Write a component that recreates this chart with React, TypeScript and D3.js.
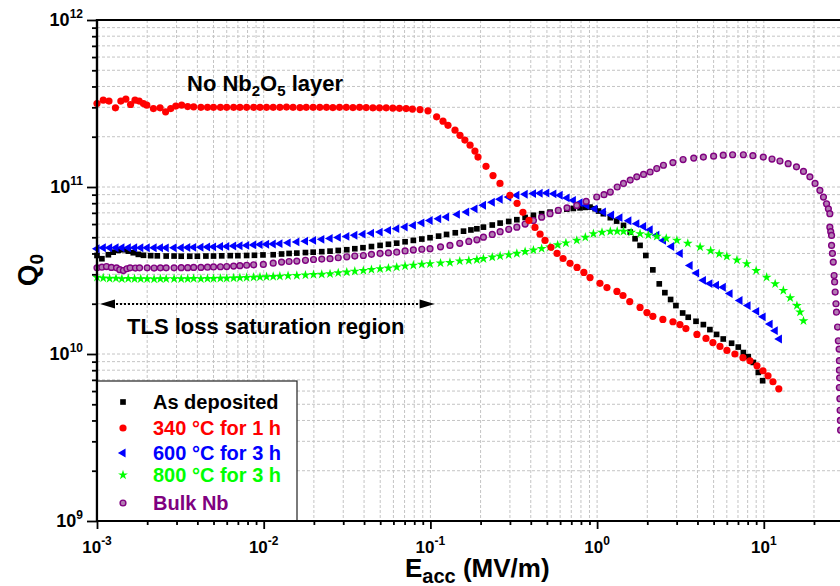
import * as d3 from 'd3';
import {useEffect, useRef} from 'react';

type Pt = [number, number];

// [Eacc (MV/m), Q0]
const asDeposited: Pt[] = [
	[0.001, 3.89e10], [0.00107, 3.72e10], [0.00117, 3.93e10], [0.00125, 4.07e10], [0.00134, 4.17e10],
	[0.00144, 4.21e10], [0.00154, 4.13e10], [0.00165, 4.04e10], [0.00177, 3.95e10], [0.0019, 3.9e10],
	[0.0021, 3.88e10], [0.0023, 3.87e10], [0.0026, 3.86e10], [0.0029, 3.86e10], [0.0032, 3.85e10],
	[0.0036, 3.85e10], [0.004, 3.85e10], [0.0045, 3.86e10], [0.005, 3.86e10], [0.0056, 3.87e10],
	[0.0063, 3.88e10], [0.007, 3.88e10], [0.0079, 3.89e10], [0.0088, 3.9e10], [0.0099, 3.92e10],
	[0.0114, 3.93e10], [0.0128, 3.97e10], [0.0142, 4.0e10], [0.0158, 4.02e10], [0.0178, 4.05e10],
	[0.0198, 4.07e10], [0.0223, 4.1e10], [0.025, 4.13e10], [0.028, 4.17e10], [0.0315, 4.21e10],
	[0.0352, 4.27e10], [0.0394, 4.33e10], [0.0443, 4.4e10], [0.0499, 4.47e10], [0.056, 4.54e10],
	[0.0628, 4.61e10], [0.0705, 4.7e10], [0.079, 4.79e10], [0.0888, 4.88e10], [0.0995, 4.97e10],
	[0.112, 5.08e10], [0.125, 5.2e10], [0.141, 5.32e10], [0.158, 5.44e10], [0.175, 5.53e10],
	[0.19, 5.62e10], [0.208, 5.75e10], [0.235, 5.92e10], [0.262, 6.08e10], [0.295, 6.22e10],
	[0.33, 6.37e10], [0.37, 6.57e10], [0.415, 6.77e10], [0.465, 6.92e10], [0.522, 7.07e10],
	[0.585, 7.22e10], [0.658, 7.37e10], [0.72, 7.44e10], [0.79, 7.5e10], [0.85, 7.55e10],
	[0.907, 7.58e10], [0.973, 7.41e10], [1.02, 7.18e10], [1.09, 6.92e10], [1.2, 6.55e10],
	[1.31, 6.25e10], [1.44, 5.89e10], [1.58, 5.37e10], [1.69, 4.9e10], [1.81, 4.47e10],
	[1.96, 3.89e10], [2.16, 3.19e10], [2.36, 2.63e10], [2.55, 2.33e10], [2.76, 2.12e10],
	[2.97, 1.95e10], [3.26, 1.76e10], [3.52, 1.66e10], [3.92, 1.57e10], [4.34, 1.5e10],
	[4.75, 1.4e10], [5.21, 1.31e10], [5.71, 1.23e10], [6.41, 1.16e10], [7.03, 1.1e10],
	[7.54, 1.02e10], [8.07, 9.64e9], [8.65, 8.9e9], [9.27, 7.76e9], [9.84, 6.92e9],
];

const c340: Pt[] = [
	[0.001, 3.16e11], [0.00109, 3.31e11], [0.00118, 3.27e11], [0.00129, 2.98e11], [0.00139, 3.27e11],
	[0.00149, 3.36e11], [0.00159, 3.12e11], [0.00169, 3.31e11], [0.00179, 3.27e11], [0.0019, 3.16e11],
	[0.00199, 3.09e11], [0.00218, 2.95e11], [0.00239, 2.98e11], [0.00258, 2.82e11], [0.00277, 2.95e11],
	[0.00297, 3.05e11], [0.00322, 3.09e11], [0.0035, 3.03e11], [0.0038, 3.02e11], [0.0042, 3.0e11],
	[0.0046, 3.0e11], [0.005, 3.0e11], [0.0055, 3.0e11], [0.006, 3.0e11], [0.0066, 3.0e11],
	[0.0072, 3.0e11], [0.0079, 3.0e11], [0.0087, 3.0e11], [0.0095, 3.0e11], [0.0104, 3.0e11],
	[0.0114, 3.0e11], [0.0125, 3.0e11], [0.0137, 3.01e11], [0.015, 3.0e11], [0.0165, 2.99e11],
	[0.018, 3.0e11], [0.0198, 3.0e11], [0.0217, 3.0e11], [0.0238, 3.0e11], [0.026, 2.99e11],
	[0.0285, 3.0e11], [0.0313, 3.0e11], [0.0343, 2.99e11], [0.0376, 3.0e11], [0.0412, 2.99e11],
	[0.0452, 2.98e11], [0.0495, 2.98e11], [0.0543, 2.98e11], [0.0595, 2.97e11], [0.0652, 2.96e11],
	[0.0715, 2.95e11], [0.078, 2.93e11], [0.0866, 2.91e11], [0.0967, 2.86e11], [0.109, 2.63e11],
	[0.119, 2.48e11], [0.1275, 2.34e11], [0.1405, 2.19e11], [0.1505, 2.04e11], [0.161, 1.91e11],
	[0.173, 1.78e11], [0.185, 1.64e11], [0.193, 1.51e11], [0.2156, 1.33e11], [0.2375, 1.17e11],
	[0.2615, 1.05e11], [0.3, 8.92e10], [0.331, 7.98e10], [0.359, 7.05e10], [0.39, 6.31e10],
	[0.424, 5.73e10], [0.455, 5.22e10], [0.487, 4.79e10], [0.529, 4.35e10], [0.575, 4.0e10],
	[0.625, 3.73e10], [0.688, 3.49e10], [0.758, 3.3e10], [0.833, 3.08e10], [0.907, 2.87e10],
	[1.04, 2.65e10], [1.146, 2.5e10], [1.315, 2.37e10], [1.43, 2.24e10], [1.57, 2.06e10],
	[1.81, 1.9e10], [1.99, 1.77e10], [2.16, 1.68e10], [2.48, 1.61e10], [2.85, 1.56e10],
	[3.14, 1.5e10], [3.41, 1.42e10], [3.97, 1.31e10], [4.5, 1.24e10], [4.95, 1.17e10],
	[5.46, 1.11e10], [6.01, 1.05e10], [6.71, 1.0e10], [7.5, 9.5e9], [8.26, 9.1e9],
	[9.1, 8.5e9], [9.89, 7.94e9], [10.6, 7.41e9], [11.35, 6.82e9], [12.3, 6.19e9],
];

const c600: Pt[] = [
	[0.001, 4.27e10], [0.00109, 4.33e10], [0.00119, 4.33e10], [0.0013, 4.33e10], [0.00141, 4.33e10],
	[0.00154, 4.33e10], [0.00168, 4.33e10], [0.00183, 4.33e10], [0.002, 4.33e10], [0.0022, 4.33e10],
	[0.0024, 4.33e10], [0.0026, 4.32e10], [0.0029, 4.33e10], [0.0032, 4.33e10], [0.0035, 4.34e10],
	[0.0038, 4.35e10], [0.0042, 4.36e10], [0.0046, 4.37e10], [0.005, 4.38e10], [0.0055, 4.4e10],
	[0.006, 4.41e10], [0.0066, 4.43e10], [0.0072, 4.45e10], [0.0079, 4.47e10], [0.0087, 4.5e10],
	[0.0095, 4.52e10], [0.0104, 4.54e10], [0.0114, 4.56e10], [0.0125, 4.58e10], [0.014, 4.63e10],
	[0.0158, 4.69e10], [0.0178, 4.74e10], [0.0199, 4.79e10], [0.0223, 4.86e10], [0.025, 4.92e10],
	[0.028, 4.99e10], [0.0315, 5.06e10], [0.0352, 5.14e10], [0.0394, 5.22e10], [0.0443, 5.29e10],
	[0.0499, 5.37e10], [0.056, 5.5e10], [0.0628, 5.63e10], [0.0705, 5.76e10], [0.079, 5.89e10],
	[0.0888, 6.1e10], [0.0995, 6.3e10], [0.112, 6.45e10], [0.125, 6.61e10], [0.145, 6.85e10],
	[0.165, 7.08e10], [0.185, 7.4e10], [0.208, 7.77e10], [0.235, 8.1e10], [0.262, 8.44e10],
	[0.295, 8.7e10], [0.33, 8.92e10], [0.37, 9.05e10], [0.415, 9.13e10], [0.455, 9.18e10],
	[0.499, 9.2e10], [0.55, 9.1e10], [0.6, 8.92e10], [0.66, 8.6e10], [0.72, 8.32e10],
	[0.79, 8.05e10], [0.867, 7.76e10], [0.97, 7.4e10], [1.09, 7.08e10], [1.22, 6.8e10],
	[1.37, 6.55e10], [1.55, 6.28e10], [1.73, 6.03e10], [1.9, 5.8e10], [2.08, 5.55e10],
	[2.28, 5.15e10], [2.5, 4.79e10], [2.8, 4.4e10], [3.15, 4.0e10], [3.61, 3.39e10],
	[3.95, 3.05e10], [4.34, 2.76e10], [4.75, 2.64e10], [5.2, 2.58e10], [5.71, 2.51e10],
	[6.27, 2.3e10], [7.19, 2.09e10], [8.04, 1.95e10], [9.06, 1.8e10], [9.9, 1.67e10],
	[10.9, 1.51e10], [11.7, 1.38e10], [12.4, 1.23e10],
];

const c800: Pt[] = [
	[0.001, 2.88e10], [0.00109, 2.85e10], [0.00119, 2.83e10], [0.0013, 2.84e10], [0.00141, 2.82e10],
	[0.00154, 2.83e10], [0.00168, 2.82e10], [0.00183, 2.82e10], [0.002, 2.82e10], [0.0022, 2.81e10],
	[0.0024, 2.82e10], [0.0026, 2.82e10], [0.0029, 2.82e10], [0.0032, 2.82e10], [0.0035, 2.82e10],
	[0.0038, 2.83e10], [0.0042, 2.82e10], [0.0046, 2.83e10], [0.005, 2.83e10], [0.0055, 2.84e10],
	[0.006, 2.84e10], [0.0066, 2.85e10], [0.0072, 2.86e10], [0.0079, 2.87e10], [0.0087, 2.88e10],
	[0.0095, 2.89e10], [0.0104, 2.9e10], [0.0114, 2.91e10], [0.0125, 2.92e10], [0.014, 2.94e10],
	[0.0158, 2.95e10], [0.0178, 2.97e10], [0.0199, 2.99e10], [0.0223, 3.0e10], [0.025, 3.02e10],
	[0.028, 3.06e10], [0.0315, 3.09e10], [0.0352, 3.13e10], [0.0396, 3.16e10], [0.0443, 3.2e10],
	[0.0499, 3.24e10], [0.056, 3.27e10], [0.0628, 3.31e10], [0.0705, 3.36e10], [0.079, 3.4e10],
	[0.0888, 3.44e10], [0.0995, 3.47e10], [0.115, 3.5e10], [0.131, 3.53e10], [0.15, 3.6e10],
	[0.17, 3.63e10], [0.19, 3.67e10], [0.208, 3.72e10], [0.235, 3.8e10], [0.262, 3.86e10],
	[0.295, 3.93e10], [0.33, 4.0e10], [0.37, 4.1e10], [0.415, 4.19e10], [0.465, 4.28e10],
	[0.522, 4.37e10], [0.58, 4.5e10], [0.65, 4.62e10], [0.755, 4.79e10], [0.85, 5.0e10],
	[0.95, 5.25e10], [1.07, 5.35e10], [1.2, 5.42e10], [1.32, 5.43e10], [1.44, 5.42e10],
	[1.6, 5.35e10], [1.81, 5.25e10], [2.03, 5.15e10], [2.28, 5.06e10], [2.6, 4.92e10],
	[3.01, 4.79e10], [3.5, 4.6e10], [4.15, 4.37e10], [4.8, 4.15e10], [5.4, 3.98e10],
	[6.0, 3.84e10], [6.9, 3.65e10], [7.9, 3.47e10], [9.0, 3.16e10], [10.4, 2.88e10],
	[11.7, 2.63e10], [13.1, 2.4e10], [14.4, 2.17e10], [15.8, 1.95e10], [16.5, 1.78e10],
	[17.3, 1.58e10],
];

const bulkNb: Pt[] = [
	[0.001, 3.28e10], [0.00107, 3.31e10], [0.00114, 3.34e10], [0.00122, 3.3e10], [0.00131, 3.28e10],
	[0.00137, 3.2e10], [0.00144, 3.16e10], [0.00151, 3.24e10], [0.00158, 3.28e10], [0.0017, 3.27e10],
	[0.0018, 3.28e10], [0.002, 3.28e10], [0.0022, 3.27e10], [0.0024, 3.28e10], [0.0026, 3.28e10],
	[0.0029, 3.28e10], [0.0032, 3.29e10], [0.0035, 3.29e10], [0.0038, 3.3e10], [0.0042, 3.3e10],
	[0.0046, 3.31e10], [0.005, 3.32e10], [0.0055, 3.33e10], [0.006, 3.34e10], [0.0066, 3.36e10],
	[0.0072, 3.38e10], [0.0079, 3.4e10], [0.0087, 3.42e10], [0.00995, 3.44e10], [0.0114, 3.5e10],
	[0.0128, 3.55e10], [0.0142, 3.58e10], [0.0158, 3.6e10], [0.0178, 3.64e10], [0.0199, 3.68e10],
	[0.0223, 3.7e10], [0.025, 3.72e10], [0.028, 3.77e10], [0.0315, 3.82e10], [0.0352, 3.86e10],
	[0.0396, 3.89e10], [0.0443, 3.95e10], [0.0499, 4.0e10], [0.056, 4.03e10], [0.0628, 4.07e10],
	[0.0705, 4.14e10], [0.079, 4.2e10], [0.0888, 4.24e10], [0.0995, 4.27e10], [0.115, 4.38e10],
	[0.131, 4.47e10], [0.15, 4.6e10], [0.17, 4.72e10], [0.19, 4.83e10], [0.208, 5.01e10],
	[0.235, 5.2e10], [0.262, 5.4e10], [0.295, 5.58e10], [0.33, 5.75e10], [0.37, 6.0e10],
	[0.415, 6.3e10], [0.465, 6.6e10], [0.522, 6.92e10], [0.585, 7.25e10], [0.66, 7.5e10],
	[0.755, 7.76e10], [0.86, 8.2e10], [0.995, 8.71e10], [1.1, 9.0e10], [1.2, 9.33e10],
	[1.32, 1.0e11], [1.44, 1.05e11], [1.58, 1.1e11], [1.73, 1.15e11], [1.9, 1.19e11],
	[2.08, 1.23e11], [2.28, 1.29e11], [2.5, 1.35e11], [2.85, 1.4e11], [3.28, 1.46e11],
	[3.8, 1.49e11], [4.34, 1.51e11], [5.0, 1.53e11], [5.71, 1.55e11], [6.5, 1.56e11],
	[7.54, 1.56e11], [8.6, 1.54e11], [9.93, 1.51e11], [11.2, 1.47e11], [12.5, 1.43e11],
	[14.0, 1.38e11], [15.7, 1.32e11], [17.3, 1.24e11], [18.9, 1.15e11], [20.3, 1.05e11],
	[21.7, 9.55e10], [22.8, 8.7e10], [23.8, 7.94e10], [24.4, 7.4e10], [24.9, 6.92e10],
	[24.9, 5.75e10], [25.2, 5.4e10], [25.5, 5.13e10], [25.5, 4.47e10], [25.8, 4.0e10],
	[26.1, 3.55e10], [26.4, 2.95e10], [26.6, 2.7e10], [26.8, 2.35e10], [27.1, 2.0e10],
	[27.3, 1.78e10], [27.7, 1.45e10], [28.0, 1.2e10], [28.3, 1.07e10], [28.4, 9.12e9],
	[28.4, 8.0e9], [28.5, 7.2e9], [28.4, 6.3e9], [28.6, 5.4e9], [28.7, 4.6e9],
	[28.8, 4.0e9], [28.9, 3.5e9],
];

const legendLabels = ['As deposited', '340 °C for 1 h', '600 °C for 3 h', '800 °C for 3 h', 'Bulk Nb'];
const xTickExps = [-3, -2, -1, 0, 1];
const yTickExps = [9, 10, 11, 12];

const FONT = "'Liberation Sans', Arial, Helvetica, sans-serif";
const W = 840;
const H = 586;

const series = [
	{label: legendLabels[0], data: asDeposited, color: '#000000', shape: 'square'},
	{label: legendLabels[2], data: c600, color: '#0000ff', shape: 'triangle'},
	{label: legendLabels[3], data: c800, color: '#00ff00', shape: 'star'},
	{label: legendLabels[4], data: bulkNb, color: '#800080', shape: 'ring'},
	{label: legendLabels[1], data: c340, color: '#ff0000', shape: 'circle'},
];

function addMarker(g: any, shape: string, color: string, cx: number, cy: number) {
	if (shape === 'circle') {
		g.append('circle').attr('cx', cx).attr('cy', cy).attr('r', 3.6).attr('fill', color);
	} else if (shape === 'ring') {
		g.append('circle')
			.attr('cx', cx)
			.attr('cy', cy)
			.attr('r', 2.9)
			.attr('fill', '#b27bb2')
			.attr('stroke', color)
			.attr('stroke-width', 1.4);
	} else {
		const type = shape === 'square' ? d3.symbolSquare : shape === 'triangle' ? d3.symbolTriangle : d3.symbolStar;
		const size = shape === 'square' ? 32 : shape === 'triangle' ? 34 : 30;
		const rot = shape === 'triangle' ? -90 : 0;
		g.append('path')
			.attr('d', d3.symbol(type, size)())
			.attr('transform', `translate(${cx},${cy}) rotate(${rot})`)
			.attr('fill', color);
	}
}

export default function App() {
	const svgRef = useRef<SVGSVGElement>(null);

	useEffect(() => {
		const svg = d3.select(svgRef.current);
		svg.selectAll('*').remove();

		const x = d3.scaleLog().domain([1e-3, 1e2]).range([97, 930.5]);
		const y = d3.scaleLog().domain([1e9, 1e12]).range([521, 20]);

		const isMajor = (v: number) => Math.abs(Math.log10(v) - Math.round(Math.log10(v))) < 1e-6;
		const xTicks = x.ticks();
		const yTicks = y.ticks();

		// grid
		const grid = svg.append('g').attr('stroke', '#c4c4c4').attr('stroke-width', 1).attr('stroke-dasharray', '3,2');
		grid.selectAll('.vg')
			.data(xTicks.filter((v) => x(v) > 98 && x(v) < W))
			.join('line')
			.attr('x1', (d) => x(d))
			.attr('x2', (d) => x(d))
			.attr('y1', 20)
			.attr('y2', 521);
		grid.selectAll('.hg')
			.data(yTicks.filter((v) => y(v) > 21 && y(v) < 520))
			.join('line')
			.attr('x1', 97)
			.attr('x2', W)
			.attr('y1', (d) => y(d))
			.attr('y2', (d) => y(d));

		// data
		const plot = svg.append('g');
		series.forEach((s) => {
			const g = plot.append('g');
			s.data.forEach(([e, q]) => addMarker(g, s.shape, s.color, x(e), y(q)));
		});

		// axes
		const gx = svg.append('g').attr('transform', 'translate(0,521)');
		gx.call(d3.axisBottom(x).tickValues(xTicks.filter((v) => !isMajor(v))).tickSize(4).tickSizeOuter(0).tickFormat(() => ''));
		gx.call((g) => g.select('.domain').remove());
		const gx2 = svg.append('g').attr('transform', 'translate(0,521)');
		gx2.call(d3.axisBottom(x).tickValues(xTicks.filter(isMajor)).tickSize(8).tickSizeOuter(0).tickFormat(() => ''));
		gx2.call((g) => g.select('.domain').remove());

		const gy = svg.append('g').attr('transform', 'translate(97,0)');
		gy.call(d3.axisLeft(y).tickValues(yTicks.filter((v) => !isMajor(v))).tickSize(5).tickSizeOuter(0).tickFormat(() => ''));
		gy.call((g) => g.select('.domain').remove());
		const gy2 = svg.append('g').attr('transform', 'translate(97,0)');
		gy2.call(d3.axisLeft(y).tickValues(yTicks.filter(isMajor)).tickSize(10).tickSizeOuter(0).tickFormat(() => ''));
		gy2.call((g) => g.select('.domain').remove());
		svg.selectAll('.tick line').attr('stroke', '#000').attr('stroke-width', 1.8);

		svg.append('line').attr('x1', 97).attr('x2', W).attr('y1', 521).attr('y2', 521).attr('stroke', '#000').attr('stroke-width', 2);
		svg.append('line').attr('x1', 97).attr('x2', W).attr('y1', 20).attr('y2', 20).attr('stroke', '#000').attr('stroke-width', 2);
		svg.append('line').attr('x1', 97).attr('x2', 97).attr('y1', 19).attr('y2', 522).attr('stroke', '#000').attr('stroke-width', 2.2);

		// tick labels
		xTickExps.forEach((e) => {
			const t = svg
				.append('text')
				.attr('x', x(10 ** e))
				.attr('y', 553)
				.attr('text-anchor', 'middle')
				.attr('font-family', FONT)
				.attr('font-weight', 'bold')
				.attr('font-size', 17);
			t.append('tspan').text('10');
			t.append('tspan').attr('dy', -8).attr('font-size', 12).text(String(e));
		});
		yTickExps.forEach((e) => {
			const t = svg
				.append('text')
				.attr('x', 83)
				.attr('y', y(10 ** e) + 6)
				.attr('text-anchor', 'end')
				.attr('font-family', FONT)
				.attr('font-weight', 'bold')
				.attr('font-size', 18);
			t.append('tspan').text('10');
			t.append('tspan').attr('dy', -8).attr('font-size', 12).text(String(e));
		});

		// axis titles
		const xl = svg.append('text').attr('x', 405).attr('y', 577).attr('font-family', FONT).attr('font-weight', 'bold').attr('font-size', 26);
		xl.append('tspan').text('E');
		xl.append('tspan').attr('dy', 6).attr('font-size', 20).text('acc');
		xl.append('tspan').attr('dy', -6).text(' (MV/m)');

		const yl = svg
			.append('text')
			.attr('transform', 'translate(37,270) rotate(-90)')
			.attr('text-anchor', 'middle')
			.attr('font-family', FONT)
			.attr('font-weight', 'bold')
			.attr('font-size', 28);
		yl.append('tspan').text('Q');
		yl.append('tspan').attr('dy', 6).attr('font-size', 19).text('0');

		// annotations
		const ann = svg.append('text').attr('x', 187).attr('y', 91).attr('font-family', FONT).attr('font-weight', 'bold').attr('font-size', 22);
		ann.append('tspan').text('No Nb');
		ann.append('tspan').attr('dy', 5).attr('font-size', 15).text('2');
		ann.append('tspan').attr('dy', -5).text('O');
		ann.append('tspan').attr('dy', 5).attr('font-size', 15).text('5');
		ann.append('tspan').attr('dy', -5).text(' layer');

		const ax0 = x(1e-3) + 3;
		const ax1 = x(0.106);
		const ay = 304;
		svg.append('line')
			.attr('x1', ax0 + 12)
			.attr('x2', ax1 - 12)
			.attr('y1', ay)
			.attr('y2', ay)
			.attr('stroke', '#000')
			.attr('stroke-width', 2)
			.attr('stroke-dasharray', '2,2');
		svg.append('path').attr('d', `M${ax0},${ay} L${ax0 + 15},${ay - 4.5} L${ax0 + 15},${ay + 4.5} Z`).attr('fill', '#000');
		svg.append('path').attr('d', `M${ax1},${ay} L${ax1 - 15},${ay - 4.5} L${ax1 - 15},${ay + 4.5} Z`).attr('fill', '#000');
		svg.append('text')
			.attr('x', 127)
			.attr('y', 334)
			.attr('font-family', FONT)
			.attr('font-weight', 'bold')
			.attr('font-size', 22)
			.text('TLS loss saturation region');

		// legend
		const lg = svg.append('g');
		lg.append('rect').attr('x', 97).attr('y', 381).attr('width', 200).attr('height', 140).attr('fill', '#fff').attr('stroke', '#222').attr('stroke-width', 1.2);
		const legendRows = [
			{label: legendLabels[0], color: '#000000', shape: 'square', base: 409},
			{label: legendLabels[1], color: '#ff0000', shape: 'circle', base: 435},
			{label: legendLabels[2], color: '#0000ff', shape: 'triangle', base: 460},
			{label: legendLabels[3], color: '#00ff00', shape: 'star', base: 482},
			{label: legendLabels[4], color: '#800080', shape: 'ring', base: 510},
		];
		legendRows.forEach((r) => {
			addMarker(lg, r.shape, r.color, 123, r.base - 7);
			lg.append('text')
				.attr('x', 153)
				.attr('y', r.base)
				.attr('font-family', FONT)
				.attr('font-weight', 'bold')
				.attr('font-size', 20)
				.attr('fill', r.color)
				.text(r.label);
		});
		// re-draw left/bottom axis over legend border
		svg.append('line').attr('x1', 97).attr('x2', 97).attr('y1', 19).attr('y2', 522).attr('stroke', '#000').attr('stroke-width', 2.2);
		svg.append('line').attr('x1', 97).attr('x2', 300).attr('y1', 521).attr('y2', 521).attr('stroke', '#000').attr('stroke-width', 2);
	}, []);

	return <svg ref={svgRef} width={W} height={H} style={{position: 'absolute', left: 0, top: 0, background: '#fff'}} />;
}
